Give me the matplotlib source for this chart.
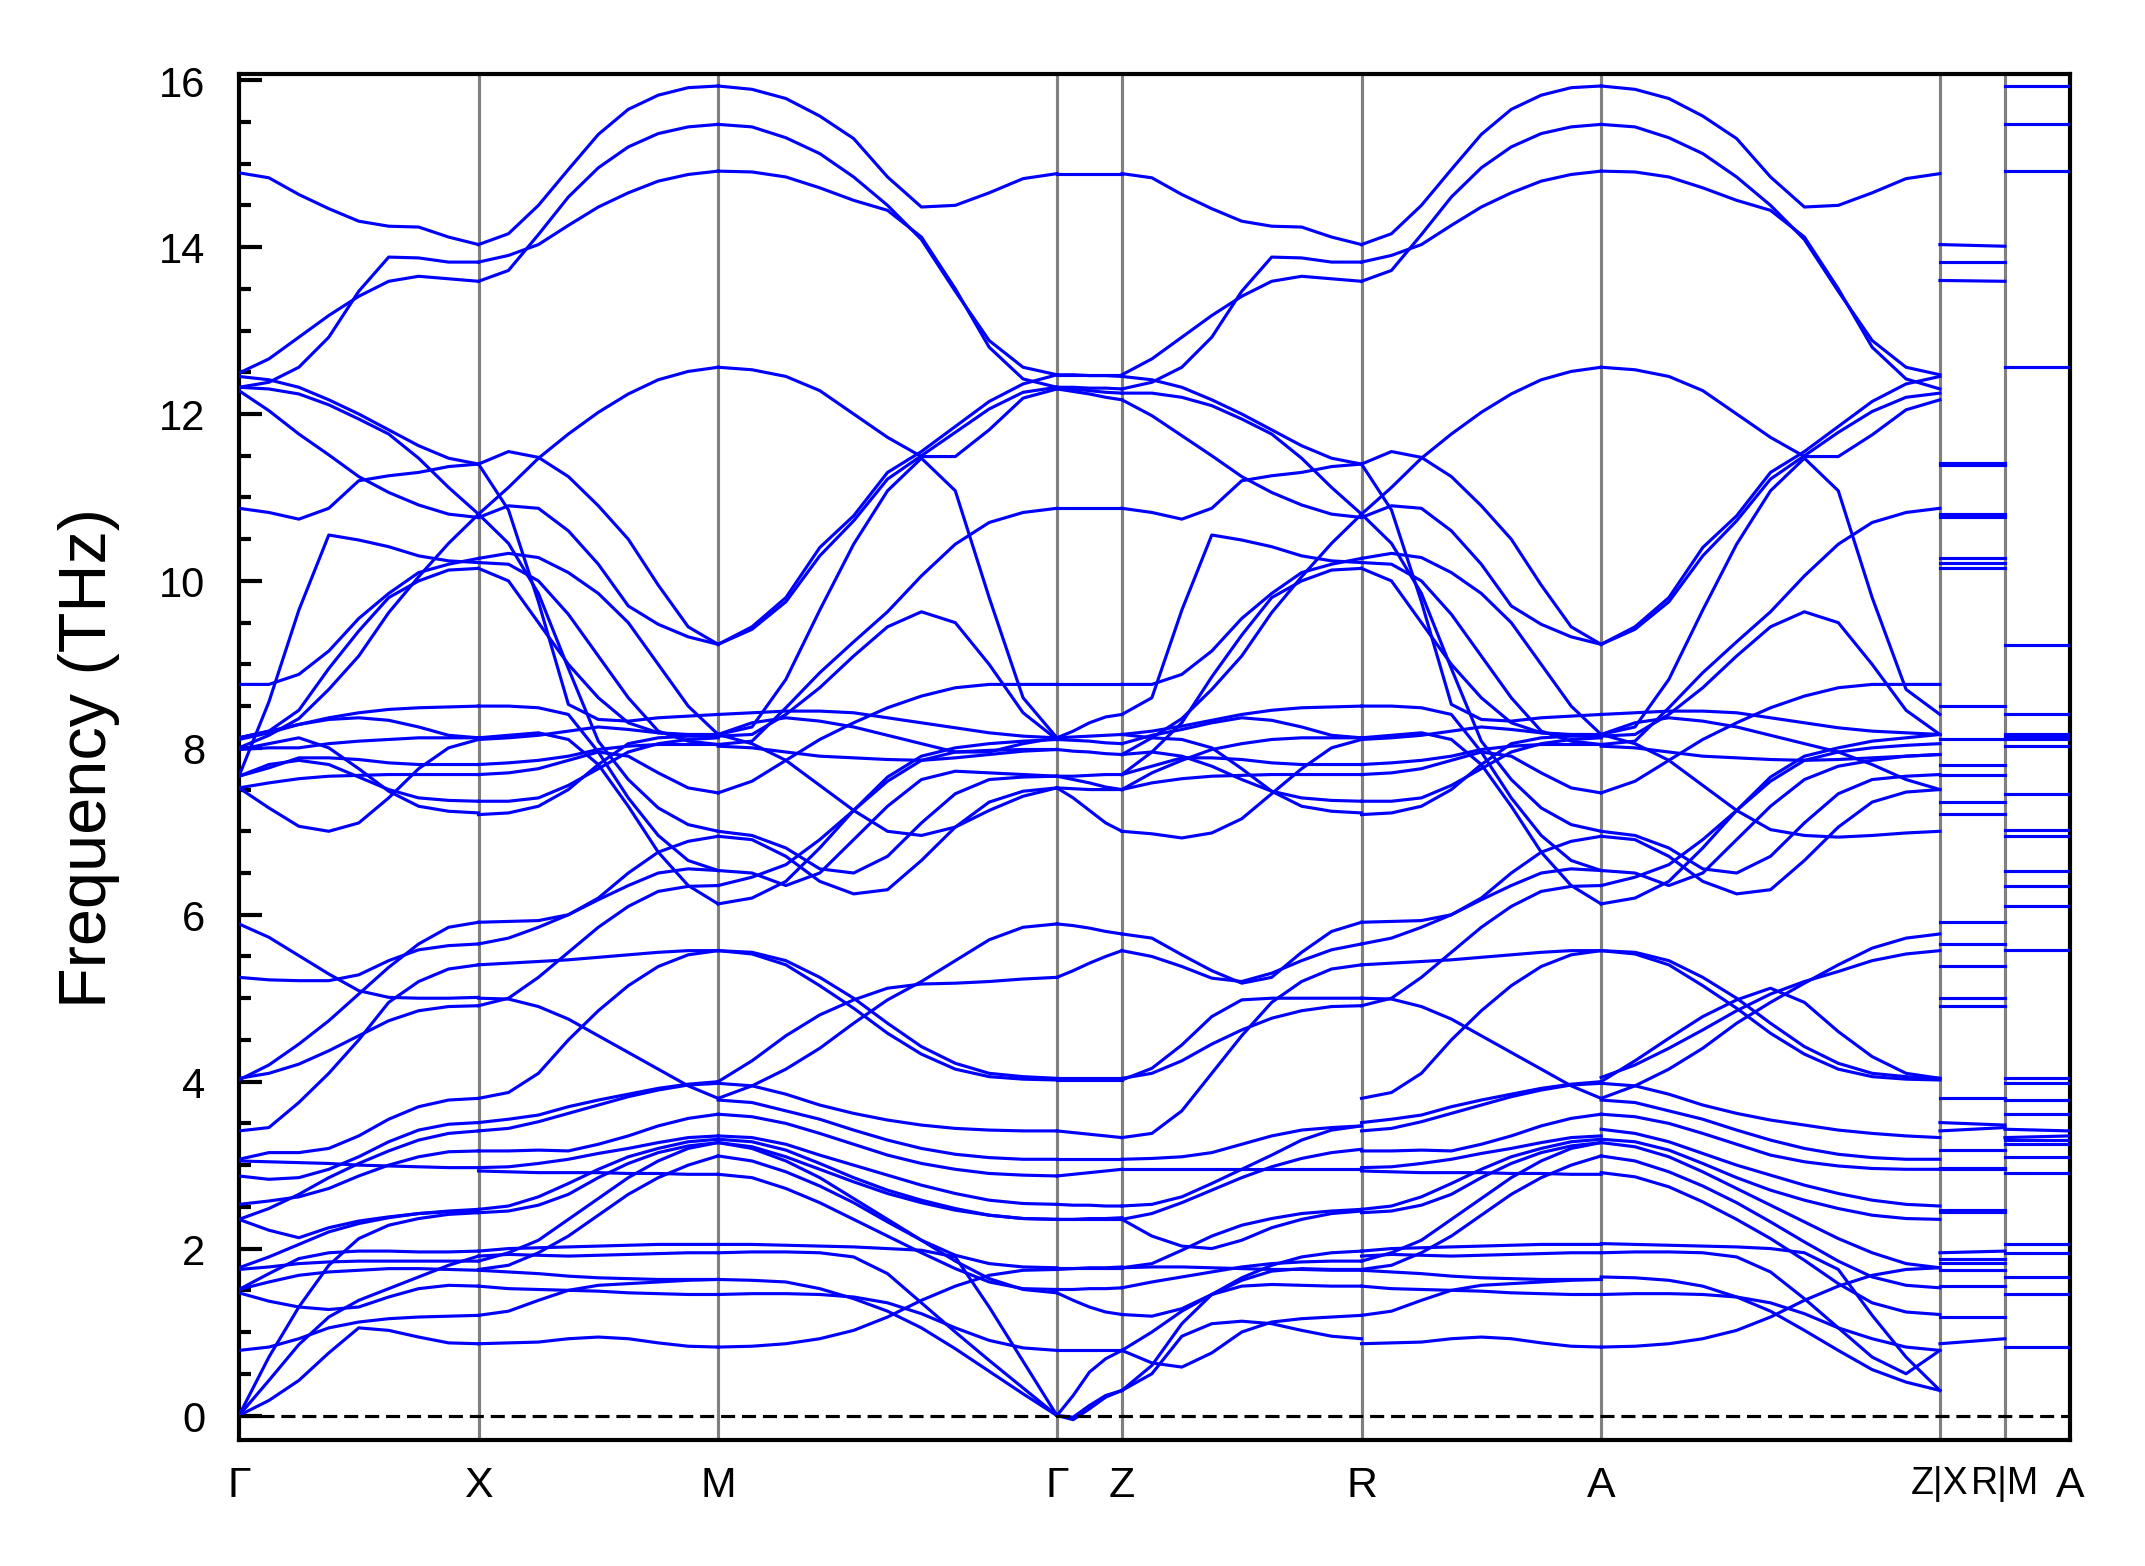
import numpy as np
import matplotlib
matplotlib.use("Agg")
import matplotlib.pyplot as plt
from matplotlib.ticker import MultipleLocator

# path: segment lengths (units of G-X) and labels of the high-symmetry points
seg_len = [1.0, 1.0, 1.4142, 0.2713, 1.0, 1.0, 1.4142, 0.2713, 0.2713]
labels = ['Γ', 'X', 'M', 'Γ', 'Z', 'R', 'A', 'Z|X', 'R|M', 'A']

# frequencies (THz), evenly spaced along each segment
gx_bands = [
    [14.89, 14.83, 14.63, 14.46, 14.31, 14.25, 14.24, 14.12, 14.03],
    [12.49, 12.66, 12.92, 13.18, 13.41, 13.59, 13.65, 13.62, 13.59],
    [12.32, 12.38, 12.56, 12.92, 13.47, 13.88, 13.87, 13.82, 13.82],
    [12.45, 12.41, 12.32, 12.17, 12.00, 11.81, 11.62, 11.47, 11.40],
    [12.32, 12.30, 12.24, 12.11, 11.94, 11.76, 11.47, 11.12, 10.80],
    [12.28, 12.04, 11.76, 11.51, 11.25, 11.06, 10.91, 10.80, 10.76],
    [10.87, 10.82, 10.74, 10.87, 11.20, 11.26, 11.30, 11.37, 11.40],
    [7.66, 8.55, 9.65, 10.55, 10.49, 10.41, 10.30, 10.24, 10.22],
    [8.76, 8.76, 8.88, 9.16, 9.55, 9.85, 10.10, 10.20, 10.27],
    [8.00, 8.15, 8.35, 8.70, 9.10, 9.62, 10.05, 10.45, 10.80],
    [8.12, 8.20, 8.45, 8.95, 9.40, 9.80, 10.00, 10.13, 10.15],
    [8.12, 8.20, 8.28, 8.36, 8.42, 8.46, 8.48, 8.49, 8.50],
    [8.10, 8.18, 8.28, 8.34, 8.36, 8.33, 8.25, 8.15, 8.12],
    [7.66, 7.76, 7.88, 7.88, 7.86, 7.82, 7.80, 7.80, 7.80],
    [7.66, 7.80, 7.85, 7.80, 7.65, 7.50, 7.40, 7.37, 7.36],
    [7.52, 7.58, 7.63, 7.66, 7.67, 7.68, 7.68, 7.68, 7.68],
    [7.52, 7.28, 7.06, 7.00, 7.10, 7.40, 7.75, 8.00, 8.10],
    [7.98, 8.05, 8.12, 8.00, 7.75, 7.48, 7.30, 7.24, 7.22],
    [7.98, 8.00, 8.00, 8.05, 8.08, 8.10, 8.12, 8.12, 8.12],
    [5.89, 5.73, 5.51, 5.29, 5.09, 5.01, 5.00, 5.00, 5.01],
    [5.25, 5.22, 5.21, 5.21, 5.28, 5.45, 5.58, 5.63, 5.65],
    [4.04, 4.10, 4.21, 4.37, 4.55, 4.73, 4.85, 4.90, 4.91],
    [4.02, 4.20, 4.45, 4.73, 5.05, 5.37, 5.65, 5.85, 5.91],
    [3.41, 3.45, 3.75, 4.10, 4.50, 4.95, 5.20, 5.35, 5.40],
    [3.07, 3.15, 3.15, 3.20, 3.35, 3.55, 3.70, 3.78, 3.80],
    [3.05, 3.04, 3.03, 3.02, 3.00, 2.99, 2.98, 2.97, 2.97],
    [2.87, 2.83, 2.85, 2.95, 3.10, 3.28, 3.42, 3.49, 3.51],
    [2.53, 2.57, 2.62, 2.72, 2.87, 3.00, 3.10, 3.16, 3.17],
    [2.35, 2.48, 2.65, 2.85, 3.02, 3.17, 3.30, 3.38, 3.41],
    [2.35, 2.22, 2.13, 2.25, 2.33, 2.38, 2.42, 2.44, 2.45],
    [1.77, 1.90, 2.05, 2.20, 2.30, 2.37, 2.42, 2.45, 2.47],
    [1.75, 1.78, 1.82, 1.84, 1.85, 1.85, 1.85, 1.85, 1.85],
    [1.51, 1.70, 1.88, 1.95, 1.97, 1.97, 1.96, 1.96, 1.97],
    [1.51, 1.60, 1.68, 1.72, 1.74, 1.76, 1.76, 1.75, 1.74],
    [1.47, 1.37, 1.30, 1.27, 1.30, 1.42, 1.52, 1.56, 1.55],
    [0.78, 0.82, 0.92, 1.05, 1.12, 1.16, 1.18, 1.19, 1.20],
    [0.00, 0.18, 0.42, 0.75, 1.05, 1.02, 0.94, 0.87, 0.86],
    [0.00, 0.42, 0.85, 1.18, 1.38, 1.52, 1.66, 1.80, 1.91],
    [0.00, 0.70, 1.30, 1.80, 2.12, 2.28, 2.36, 2.41, 2.43],
]

xm_bands = [
    [14.03, 14.16, 14.50, 14.93, 15.35, 15.65, 15.82, 15.91, 15.93],
    [13.59, 13.72, 14.15, 14.60, 14.95, 15.20, 15.36, 15.44, 15.47],
    [13.82, 13.90, 14.03, 14.26, 14.48, 14.65, 14.79, 14.87, 14.91],
    [10.80, 11.12, 11.47, 11.76, 12.02, 12.24, 12.41, 12.51, 12.56],
    [11.40, 11.55, 11.48, 11.25, 10.90, 10.50, 9.95, 9.45, 9.24],
    [10.76, 10.90, 10.87, 10.60, 10.20, 9.70, 9.48, 9.33, 9.24],
    [11.40, 10.85, 9.75, 8.52, 8.34, 8.32, 8.36, 8.38, 8.40],
    [10.80, 10.45, 9.85, 8.95, 8.08, 7.62, 7.28, 7.08, 7.00],
    [10.27, 10.33, 10.28, 10.10, 9.85, 9.50, 9.00, 8.50, 8.16],
    [10.15, 10.00, 9.50, 9.00, 8.60, 8.30, 8.18, 8.15, 8.14],
    [10.22, 10.20, 10.00, 9.60, 9.10, 8.60, 8.20, 8.08, 8.04],
    [8.50, 8.50, 8.48, 8.40, 7.95, 7.40, 6.95, 6.65, 6.53],
    [8.12, 8.15, 8.18, 8.10, 7.80, 7.30, 6.75, 6.35, 6.13],
    [8.10, 8.12, 8.15, 8.20, 8.25, 8.22, 8.18, 8.16, 8.16],
    [7.80, 7.82, 7.85, 7.90, 7.98, 8.02, 8.04, 8.04, 8.04],
    [7.68, 7.70, 7.75, 7.85, 7.95, 7.90, 7.70, 7.52, 7.46],
    [7.36, 7.36, 7.40, 7.55, 7.75, 7.95, 8.05, 8.10, 8.12],
    [7.20, 7.22, 7.30, 7.50, 7.80, 8.05, 8.12, 8.14, 8.14],
    [5.91, 5.92, 5.93, 6.00, 6.20, 6.50, 6.75, 6.88, 6.94],
    [5.65, 5.72, 5.85, 6.00, 6.18, 6.35, 6.50, 6.55, 6.53],
    [5.40, 5.42, 5.44, 5.46, 5.49, 5.52, 5.55, 5.57, 5.57],
    [5.00, 4.99, 4.90, 4.75, 4.55, 4.35, 4.15, 3.95, 3.80],
    [4.91, 5.00, 5.25, 5.55, 5.85, 6.10, 6.28, 6.34, 6.35],
    [3.80, 3.87, 4.10, 4.50, 4.85, 5.15, 5.38, 5.52, 5.57],
    [3.51, 3.55, 3.60, 3.70, 3.78, 3.85, 3.92, 3.97, 4.00],
    [3.41, 3.44, 3.52, 3.62, 3.72, 3.82, 3.90, 3.96, 3.98],
    [3.17, 3.17, 3.18, 3.17, 3.25, 3.35, 3.47, 3.56, 3.61],
    [2.97, 2.98, 3.02, 3.07, 3.14, 3.20, 3.27, 3.33, 3.35],
    [2.93, 2.92, 2.91, 2.91, 2.91, 2.90, 2.90, 2.89, 2.89],
    [2.47, 2.51, 2.62, 2.78, 2.95, 3.10, 3.20, 3.28, 3.31],
    [2.43, 2.45, 2.52, 2.65, 2.85, 3.02, 3.15, 3.23, 3.27],
    [1.97, 2.00, 2.01, 2.02, 2.03, 2.04, 2.05, 2.05, 2.05],
    [1.91, 1.93, 1.92, 1.91, 1.92, 1.93, 1.94, 1.95, 1.95],
    [1.85, 1.95, 2.10, 2.35, 2.60, 2.85, 3.05, 3.20, 3.27],
    [1.75, 1.80, 1.95, 2.15, 2.40, 2.65, 2.85, 3.00, 3.11],
    [1.55, 1.52, 1.51, 1.50, 1.49, 1.47, 1.46, 1.45, 1.45],
    [1.74, 1.72, 1.70, 1.67, 1.65, 1.64, 1.63, 1.63, 1.63],
    [1.20, 1.25, 1.38, 1.50, 1.56, 1.58, 1.60, 1.62, 1.63],
    [0.86, 0.87, 0.88, 0.92, 0.94, 0.92, 0.87, 0.83, 0.82],
]

mg_bands = [
    [15.93, 15.89, 15.78, 15.57, 15.30, 14.84, 14.48, 14.50, 14.65, 14.82, 14.88],
    [15.47, 15.44, 15.31, 15.12, 14.84, 14.50, 14.09, 13.47, 12.88, 12.56, 12.47],
    [14.91, 14.90, 14.84, 14.71, 14.56, 14.44, 14.12, 13.50, 12.80, 12.42, 12.32],
    [12.56, 12.53, 12.45, 12.28, 12.00, 11.72, 11.49, 11.49, 11.81, 12.19, 12.30],
    [9.24, 9.45, 9.80, 10.40, 10.78, 11.30, 11.55, 11.85, 12.15, 12.36, 12.47],
    [9.24, 9.42, 9.75, 10.30, 10.72, 11.22, 11.50, 11.78, 12.06, 12.26, 12.32],
    [8.16, 8.25, 8.82, 9.65, 10.44, 11.08, 11.47, 11.08, 9.80, 8.60, 8.12],
    [8.04, 8.08, 8.48, 8.90, 9.27, 9.63, 10.06, 10.44, 10.70, 10.82, 10.87],
    [8.14, 8.16, 8.40, 8.72, 9.10, 9.45, 9.63, 9.50, 9.00, 8.42, 8.10],
    [7.46, 7.60, 7.85, 8.10, 8.30, 8.48, 8.62, 8.72, 8.76, 8.76, 8.76],
    [7.00, 6.95, 6.80, 6.55, 6.50, 6.70, 7.10, 7.45, 7.62, 7.65, 7.66],
    [6.94, 6.90, 6.70, 6.40, 6.25, 6.30, 6.65, 7.05, 7.35, 7.48, 7.52],
    [6.53, 6.50, 6.35, 6.50, 6.90, 7.30, 7.62, 7.72, 7.70, 7.68, 7.66],
    [6.35, 6.45, 6.60, 6.90, 7.25, 7.60, 7.85, 7.95, 7.97, 7.98, 7.98],
    [6.13, 6.20, 6.40, 6.80, 7.25, 7.65, 7.90, 8.00, 8.05, 8.08, 8.10],
    [8.16, 8.05, 7.85, 7.55, 7.25, 7.00, 6.95, 7.05, 7.25, 7.42, 7.52],
    [8.40, 8.42, 8.44, 8.44, 8.42, 8.36, 8.30, 8.24, 8.18, 8.14, 8.12],
    [8.02, 8.00, 7.95, 7.90, 7.88, 7.86, 7.85, 7.88, 7.92, 7.96, 7.98],
    [8.16, 8.30, 8.36, 8.32, 8.25, 8.15, 8.05, 7.95, 7.95, 8.05, 8.12],
    [5.57, 5.55, 5.45, 5.25, 5.00, 4.70, 4.42, 4.22, 4.10, 4.06, 4.04],
    [5.57, 5.53, 5.40, 5.15, 4.88, 4.58, 4.33, 4.15, 4.06, 4.03, 4.02],
    [4.00, 4.25, 4.55, 4.80, 4.98, 5.12, 5.17, 5.18, 5.20, 5.23, 5.25],
    [3.80, 3.95, 4.15, 4.40, 4.70, 4.98, 5.20, 5.45, 5.70, 5.85, 5.89],
    [3.98, 3.95, 3.85, 3.72, 3.62, 3.54, 3.48, 3.44, 3.42, 3.41, 3.41],
    [3.78, 3.75, 3.65, 3.55, 3.42, 3.30, 3.20, 3.13, 3.09, 3.07, 3.07],
    [3.61, 3.58, 3.50, 3.38, 3.25, 3.12, 3.02, 2.95, 2.90, 2.88, 2.87],
    [3.35, 3.33, 3.25, 3.12, 3.00, 2.88, 2.76, 2.66, 2.58, 2.54, 2.53],
    [3.31, 3.28, 3.18, 3.02, 2.85, 2.70, 2.58, 2.48, 2.40, 2.36, 2.35],
    [3.27, 3.22, 3.10, 2.95, 2.80, 2.66, 2.55, 2.46, 2.40, 2.36, 2.35],
    [3.11, 3.05, 2.92, 2.75, 2.55, 2.32, 2.10, 1.92, 1.82, 1.78, 1.77],
    [2.89, 2.85, 2.72, 2.55, 2.35, 2.15, 1.95, 1.76, 1.60, 1.52, 1.51],
    [3.27, 3.20, 3.05, 2.85, 2.60, 2.35, 2.10, 1.85, 1.64, 1.51, 1.47],
    [2.05, 2.05, 2.04, 2.03, 2.02, 2.00, 1.98, 1.90, 1.30, 0.65, 0.00],
    [1.95, 1.96, 1.96, 1.95, 1.90, 1.70, 1.35, 1.00, 0.66, 0.33, 0.00],
    [1.63, 1.62, 1.60, 1.52, 1.40, 1.25, 1.05, 0.80, 0.53, 0.26, 0.00],
    [1.45, 1.46, 1.46, 1.45, 1.42, 1.35, 1.22, 1.05, 0.90, 0.81, 0.78],
    [0.82, 0.83, 0.86, 0.92, 1.02, 1.18, 1.38, 1.55, 1.68, 1.74, 1.75],
]

gz_bands = [
    [14.88, 14.88, 14.88, 14.88, 14.88],
    [12.47, 12.47, 12.47, 12.47, 12.47],
    [12.47, 12.47, 12.46, 12.46, 12.45],
    [12.32, 12.32, 12.31, 12.31, 12.30],
    [12.32, 12.30, 12.28, 12.26, 12.25],
    [12.30, 12.27, 12.24, 12.20, 12.17],
    [10.87, 10.87, 10.87, 10.87, 10.87],
    [8.76, 8.76, 8.76, 8.76, 8.76],
    [8.12, 8.20, 8.30, 8.37, 8.40],
    [8.12, 8.13, 8.14, 8.15, 8.16],
    [8.10, 8.09, 8.08, 8.06, 8.05],
    [7.98, 7.96, 7.95, 7.93, 7.92],
    [7.66, 7.66, 7.67, 7.68, 7.68],
    [7.66, 7.62, 7.58, 7.53, 7.50],
    [7.52, 7.40, 7.25, 7.10, 7.00],
    [7.52, 7.51, 7.50, 7.50, 7.50],
    [5.89, 5.87, 5.84, 5.80, 5.77],
    [5.25, 5.33, 5.42, 5.50, 5.57],
    [4.04, 4.04, 4.04, 4.04, 4.04],
    [4.02, 4.02, 4.02, 4.02, 4.02],
    [3.41, 3.39, 3.37, 3.35, 3.33],
    [3.07, 3.07, 3.07, 3.07, 3.07],
    [2.87, 2.89, 2.91, 2.93, 2.95],
    [2.53, 2.52, 2.52, 2.51, 2.51],
    [2.35, 2.35, 2.35, 2.35, 2.35],
    [2.35, 2.35, 2.36, 2.36, 2.37],
    [1.77, 1.77, 1.77, 1.77, 1.77],
    [1.75, 1.76, 1.77, 1.77, 1.78],
    [1.51, 1.51, 1.52, 1.52, 1.53],
    [1.47, 1.38, 1.30, 1.24, 1.21],
    [0.78, 0.78, 0.78, 0.78, 0.78],
    [0.00, 0.24, 0.52, 0.68, 0.78],
    [0.00, -0.05, 0.08, 0.22, 0.30],
    [0.00, -0.02, 0.12, 0.24, 0.30],
]

zr_bands = [
    [14.88, 14.83, 14.63, 14.46, 14.31, 14.25, 14.24, 14.12, 14.03],
    [12.47, 12.66, 12.92, 13.18, 13.41, 13.59, 13.65, 13.62, 13.59],
    [12.30, 12.38, 12.56, 12.92, 13.47, 13.88, 13.87, 13.82, 13.82],
    [12.45, 12.41, 12.32, 12.17, 12.00, 11.81, 11.62, 11.47, 11.40],
    [12.25, 12.25, 12.20, 12.10, 11.94, 11.76, 11.47, 11.12, 10.80],
    [12.17, 11.98, 11.74, 11.50, 11.25, 11.06, 10.91, 10.80, 10.76],
    [10.87, 10.82, 10.74, 10.87, 11.20, 11.26, 11.30, 11.37, 11.40],
    [8.40, 8.60, 9.65, 10.55, 10.49, 10.41, 10.30, 10.24, 10.22],
    [8.76, 8.76, 8.88, 9.16, 9.55, 9.85, 10.10, 10.20, 10.27],
    [7.92, 8.12, 8.35, 8.70, 9.10, 9.62, 10.05, 10.45, 10.80],
    [7.68, 7.95, 8.30, 8.85, 9.35, 9.80, 10.00, 10.13, 10.15],
    [8.16, 8.20, 8.26, 8.33, 8.40, 8.45, 8.48, 8.49, 8.50],
    [8.05, 8.15, 8.22, 8.30, 8.36, 8.33, 8.25, 8.15, 8.12],
    [7.68, 7.78, 7.88, 7.88, 7.86, 7.82, 7.80, 7.80, 7.80],
    [7.92, 7.95, 7.90, 7.78, 7.62, 7.48, 7.40, 7.37, 7.36],
    [7.50, 7.58, 7.63, 7.66, 7.67, 7.68, 7.68, 7.68, 7.68],
    [7.00, 6.97, 6.92, 6.98, 7.15, 7.45, 7.75, 8.00, 8.10],
    [8.16, 8.12, 8.10, 8.00, 7.75, 7.48, 7.30, 7.24, 7.22],
    [7.50, 7.70, 7.85, 7.98, 8.05, 8.10, 8.12, 8.12, 8.12],
    [5.77, 5.72, 5.52, 5.33, 5.18, 5.25, 5.55, 5.80, 5.91],
    [5.57, 5.50, 5.38, 5.24, 5.20, 5.30, 5.45, 5.58, 5.65],
    [4.02, 4.16, 4.44, 4.78, 4.98, 5.00, 5.00, 5.00, 5.00],
    [4.04, 4.10, 4.25, 4.45, 4.62, 4.76, 4.85, 4.90, 4.91],
    [3.33, 3.38, 3.65, 4.10, 4.55, 4.95, 5.20, 5.35, 5.40],
    [3.07, 3.08, 3.10, 3.15, 3.25, 3.35, 3.42, 3.45, 3.47],
    [2.95, 2.95, 2.95, 2.95, 2.95, 2.95, 2.95, 2.95, 2.95],
    [2.51, 2.53, 2.62, 2.78, 2.95, 3.12, 3.30, 3.42, 3.47],
    [2.35, 2.42, 2.55, 2.70, 2.85, 2.98, 3.08, 3.15, 3.19],
    [2.35, 2.15, 2.03, 2.00, 2.10, 2.25, 2.35, 2.42, 2.45],
    [1.77, 1.82, 1.98, 2.15, 2.28, 2.36, 2.42, 2.45, 2.47],
    [1.53, 1.60, 1.66, 1.72, 1.78, 1.82, 1.84, 1.85, 1.85],
    [1.21, 1.19, 1.28, 1.45, 1.62, 1.73, 1.76, 1.75, 1.75],
    [0.78, 0.63, 0.58, 0.75, 1.00, 1.12, 1.16, 1.18, 1.20],
    [0.30, 0.50, 0.95, 1.10, 1.13, 1.10, 1.02, 0.95, 0.92],
    [0.30, 0.60, 1.10, 1.45, 1.65, 1.80, 1.90, 1.95, 1.97],
    [0.78, 1.00, 1.25, 1.45, 1.55, 1.57, 1.56, 1.55, 1.55],
    [1.77, 1.78, 1.78, 1.77, 1.76, 1.75, 1.75, 1.74, 1.74],
]

# R-A looks the same as X-M in the picture
ra_bands = xm_bands

az_bands = [
    [15.93, 15.89, 15.78, 15.57, 15.30, 14.84, 14.48, 14.50, 14.65, 14.82, 14.88],
    [15.47, 15.44, 15.31, 15.12, 14.84, 14.50, 14.09, 13.47, 12.88, 12.56, 12.47],
    [14.91, 14.90, 14.84, 14.71, 14.56, 14.44, 14.12, 13.50, 12.80, 12.42, 12.30],
    [12.56, 12.53, 12.45, 12.28, 12.00, 11.72, 11.49, 11.49, 11.75, 12.05, 12.17],
    [9.24, 9.45, 9.80, 10.40, 10.78, 11.30, 11.55, 11.85, 12.15, 12.36, 12.45],
    [9.24, 9.42, 9.75, 10.30, 10.72, 11.22, 11.50, 11.78, 12.03, 12.20, 12.25],
    [8.16, 8.25, 8.82, 9.65, 10.44, 11.08, 11.47, 11.08, 9.80, 8.70, 8.40],
    [8.04, 8.08, 8.48, 8.90, 9.27, 9.63, 10.06, 10.44, 10.70, 10.82, 10.87],
    [8.14, 8.16, 8.40, 8.72, 9.10, 9.45, 9.63, 9.50, 9.00, 8.45, 8.16],
    [7.46, 7.60, 7.85, 8.10, 8.30, 8.48, 8.62, 8.72, 8.76, 8.76, 8.76],
    [7.00, 6.95, 6.80, 6.55, 6.50, 6.70, 7.10, 7.45, 7.62, 7.66, 7.68],
    [6.94, 6.90, 6.70, 6.40, 6.25, 6.30, 6.65, 7.05, 7.35, 7.47, 7.50],
    [6.53, 6.50, 6.35, 6.50, 6.90, 7.30, 7.62, 7.78, 7.85, 7.90, 7.92],
    [6.35, 6.45, 6.60, 6.90, 7.25, 7.60, 7.85, 7.95, 8.00, 8.03, 8.05],
    [6.13, 6.20, 6.40, 6.80, 7.25, 7.65, 7.90, 8.00, 8.08, 8.12, 8.16],
    [8.16, 8.05, 7.85, 7.55, 7.25, 7.02, 6.95, 6.93, 6.95, 6.98, 7.00],
    [8.40, 8.42, 8.44, 8.44, 8.42, 8.36, 8.30, 8.24, 8.20, 8.18, 8.16],
    [8.02, 8.00, 7.95, 7.90, 7.88, 7.86, 7.85, 7.86, 7.88, 7.90, 7.92],
    [8.16, 8.30, 8.36, 8.32, 8.25, 8.15, 8.05, 7.95, 7.80, 7.62, 7.50],
    [5.57, 5.55, 5.45, 5.25, 5.00, 4.70, 4.42, 4.22, 4.10, 4.06, 4.04],
    [5.57, 5.53, 5.40, 5.15, 4.88, 4.58, 4.33, 4.15, 4.06, 4.03, 4.02],
    [4.00, 4.25, 4.52, 4.78, 4.98, 5.12, 4.95, 4.60, 4.30, 4.10, 4.04],
    [3.80, 3.95, 4.15, 4.40, 4.70, 4.95, 5.18, 5.40, 5.60, 5.72, 5.77],
    [4.05, 4.20, 4.40, 4.62, 4.85, 5.05, 5.20, 5.32, 5.45, 5.53, 5.57],
    [3.98, 3.95, 3.85, 3.72, 3.62, 3.54, 3.48, 3.42, 3.38, 3.35, 3.33],
    [3.78, 3.75, 3.65, 3.55, 3.42, 3.30, 3.20, 3.13, 3.09, 3.07, 3.07],
    [3.61, 3.58, 3.50, 3.38, 3.25, 3.12, 3.04, 2.99, 2.96, 2.95, 2.95],
    [3.43, 3.38, 3.28, 3.14, 3.00, 2.88, 2.76, 2.66, 2.58, 2.53, 2.51],
    [3.31, 3.28, 3.18, 3.02, 2.85, 2.70, 2.58, 2.48, 2.40, 2.36, 2.35],
    [3.27, 3.22, 3.10, 2.92, 2.72, 2.52, 2.32, 2.12, 1.95, 1.82, 1.77],
    [3.11, 3.05, 2.92, 2.75, 2.55, 2.32, 2.08, 1.85, 1.66, 1.56, 1.53],
    [2.91, 2.86, 2.74, 2.56, 2.35, 2.12, 1.86, 1.58, 1.35, 1.24, 1.21],
    [2.06, 2.05, 2.04, 2.03, 2.02, 2.00, 1.95, 1.75, 1.20, 0.70, 0.30],
    [1.95, 1.96, 1.96, 1.95, 1.90, 1.72, 1.40, 1.05, 0.70, 0.50, 0.78],
    [1.66, 1.65, 1.62, 1.55, 1.42, 1.25, 1.02, 0.78, 0.55, 0.40, 0.30],
    [1.45, 1.46, 1.46, 1.45, 1.42, 1.35, 1.22, 1.05, 0.92, 0.82, 0.78],
    [0.82, 0.83, 0.86, 0.92, 1.02, 1.18, 1.38, 1.55, 1.68, 1.75, 1.77],
]

# X-R and M-A are flat: value at start, value at end
xr_bands = [
    [14.03, 14.01], [13.82, 13.82], [13.60, 13.59], [11.39, 11.39], [11.41, 11.41],
    [10.80, 10.80], [10.76, 10.76], [10.27, 10.27], [10.21, 10.21], [10.15, 10.15],
    [8.50, 8.50], [8.11, 8.11], [7.80, 7.80], [7.68, 7.68], [7.35, 7.35],
    [7.21, 7.21], [5.91, 5.91], [5.65, 5.65], [5.38, 5.38], [5.00, 5.00],
    [4.91, 4.91], [3.80, 3.80], [3.51, 3.48], [3.41, 3.45], [3.18, 3.18],
    [2.97, 2.97], [2.95, 2.95], [2.46, 2.46], [2.44, 2.44], [1.95, 1.97],
    [1.87, 1.87], [1.83, 1.83], [1.74, 1.74], [1.55, 1.55], [1.18, 1.18],
    [0.86, 0.92],
]

ma_bands = [
    [15.93, 15.93], [15.48, 15.48], [14.91, 14.91], [12.56, 12.56], [9.23, 9.23],
    [8.41, 8.41], [8.16, 8.16], [8.13, 8.13], [8.10, 8.10], [8.02, 8.02],
    [7.45, 7.45], [7.01, 7.01], [6.94, 6.94], [6.53, 6.53], [6.34, 6.34],
    [6.11, 6.11], [5.58, 5.58], [4.04, 4.04], [3.98, 3.98], [3.78, 3.78],
    [3.61, 3.61], [3.43, 3.41], [3.33, 3.35], [3.30, 3.30], [3.25, 3.25],
    [3.10, 3.10], [2.91, 2.91], [2.06, 2.06], [1.95, 1.95], [1.66, 1.66],
    [1.45, 1.45], [0.82, 0.82],
]

seg_bands = [gx_bands, xm_bands, mg_bands, gz_bands, zr_bands,
             ra_bands, az_bands, xr_bands, ma_bands]

plt.rcParams['font.family'] = ['Liberation Sans', 'DejaVu Sans']

fig, ax = plt.subplots(figsize=(7.15, 5.223), dpi=300)
fig.subplots_adjust(left=0.1114, right=0.965, bottom=0.0806, top=0.952)

nodes = np.concatenate([[0.0], np.cumsum(seg_len)])

for i, bands in enumerate(seg_bands):
    for b in bands:
        k = np.linspace(nodes[i], nodes[i + 1], len(b))
        ax.plot(k, b, color='#0000ff', lw=0.75, zorder=3)

for x in nodes[1:-1]:
    ax.axvline(x, color='gray', lw=0.75, zorder=2)
ax.axhline(0, color='black', ls='--', lw=0.75, dashes=(4.5, 2.2), zorder=4)

ax.set_xlim(nodes[0], nodes[-1])
ax.set_ylim(-0.29, 16.07)
ax.set_xticks(nodes)
ax.set_xticklabels(labels)
ax.yaxis.set_major_locator(MultipleLocator(2))
ax.yaxis.set_minor_locator(MultipleLocator(0.5))
ax.tick_params(axis='x', length=0, labelsize=10.3, pad=6)
ax.tick_params(axis='y', which='major', direction='in', length=5.5, width=1,
               labelsize=10, pad=8)
ax.tick_params(axis='y', which='minor', direction='in', length=2.8, width=1)
# the two joined labels sit very close together; keep them a bit smaller
for lab in ax.get_xticklabels()[7:9]:
    lab.set_fontsize(9.0)
for s in ax.spines.values():
    s.set_linewidth(1.0)
ax.set_ylabel('Frequency (THz)', fontsize=16)
ax.yaxis.set_label_coords(-0.065, 0.5)

fig.savefig('out.png', dpi=300)
